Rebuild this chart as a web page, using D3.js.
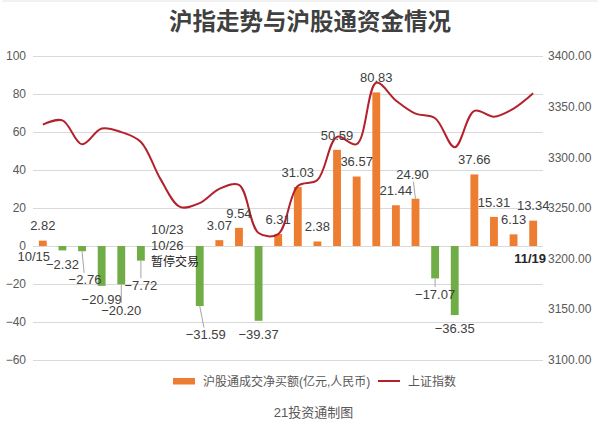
<!DOCTYPE html>
<html>
<head>
<meta charset="utf-8">
<script src="https://cdnjs.cloudflare.com/ajax/libs/d3/7.8.5/d3.min.js"></script>
<style>
  html, body { margin: 0; padding: 0; background: #fff; }
  svg { display: block; }
  text { font-family: "Liberation Sans", Arial, "Noto Sans CJK SC", sans-serif; }
</style>
</head>
<body>
<svg id="chart" width="600" height="432"></svg>
<script>
// ---- data ----
const dates = ["10/15","10/16","10/19","10/20","10/21","10/22","10/23","10/26","10/27","10/28","10/29","10/30",
  "11/2","11/3","11/4","11/5","11/6","11/9","11/10","11/11","11/12","11/13","11/16","11/17","11/18","11/19"];
const netBuy = [2.82,-2.32,-2.76,-20.99,-20.20,-7.72,null,null,-31.59,3.07,9.54,-39.37,
  6.31,31.03,2.38,50.59,36.57,80.83,21.44,24.90,-17.07,-36.35,37.66,15.31,6.13,13.34];
const sseIndex = [3332.2,3336.4,3312.7,3328.3,3324.8,3315.0,3278.3,3250.8,3254.6,3268.6,3272.6,3225.0,
  3224.0,3271.5,3277.4,3320.1,3312.8,3373.6,3356.0,3343.0,3338.5,3309.8,3345.8,3340.0,3348.0,3363.1];
const leftTicks = [-60,-40,-20,0,20,40,60,80,100];
const rightTicks = [3100,3150,3200,3250,3300,3350,3400];
const title = "沪指走势与沪股通资金情况";
const seriesNames = ["沪股通成交净买额(亿元,人民币)", "上证指数"];
const suspendedNote = ["10/23", "10/26", "暂停交易"];
const source = "21投资通制图";

// ---- layout config (label nudges for crowded labels) ----
const labelNudge = {2:{dx:3,dy:15}, 4:{dx:0,dy:12}, 5:{dx:0,dy:11}, 8:{dx:6,dy:15}, 19:{dx:-3,dy:-9}, 20:{dx:0,dy:2}};

const svg = d3.select("#chart");
const colPos = "#ED7D31", colNeg = "#70AD47", colLine = "#B3222C";
const textCol = "#404040", axisCol = "#595959";

const x = d3.scaleBand().domain(dates).range([33, 543]).paddingInner(0.6).paddingOuter(0.3);
const yL = d3.scaleLinear().domain([-60, 100]).range([360, 56]);
const yR = d3.scaleLinear().domain([3100, 3400]).range([359.5, 56]);
const cx = d => x(d) + x.bandwidth() / 2;

// top faint border
svg.append("line").attr("x1", 2).attr("x2", 598).attr("y1", 1).attr("y2", 1)
  .attr("stroke", "#e4e4e4").attr("stroke-width", 1);

// title
svg.append("text").attr("x", 310).attr("y", 30).attr("text-anchor", "middle")
  .style("font-family", "'Noto Sans CJK SC', sans-serif")
  .attr("font-size", 23.5).attr("font-weight", "bold").attr("fill", "#404040").text(title);

// gridlines
svg.append("g").selectAll("line").data(leftTicks).join("line")
  .attr("x1", 33).attr("x2", 543)
  .attr("y1", d => Math.round(yL(d)) + 0.5).attr("y2", d => Math.round(yL(d)) + 0.5)
  .attr("stroke", "#d9d9d9").attr("stroke-width", 1);

// left axis
const gL = svg.append("g").attr("transform", "translate(26,0)")
  .call(d3.axisLeft(yL).tickValues(leftTicks).tickSize(0).tickPadding(0));
gL.select(".domain").remove();
gL.selectAll("text").attr("font-size", 12).attr("fill", axisCol)
  .style("font-family", "'Liberation Sans', Arial, sans-serif");

// right axis
const gR = svg.append("g").attr("transform", "translate(548,0)")
  .call(d3.axisRight(yR).tickValues(rightTicks).tickFormat(d3.format(".2f")).tickSize(0).tickPadding(0));
gR.select(".domain").remove();
gR.selectAll("text").attr("font-size", 12).attr("fill", axisCol)
  .style("font-family", "'Liberation Sans', Arial, sans-serif");

// bars
const barData = dates.map((d, i) => ({d, i, v: netBuy[i]})).filter(e => e.v !== null);
svg.append("g").selectAll("rect").data(barData).join("rect")
  .attr("x", e => x(e.d))
  .attr("width", x.bandwidth())
  .attr("y", e => yL(Math.max(0, e.v)))
  .attr("height", e => Math.abs(yL(e.v) - yL(0)))
  .attr("fill", e => e.v >= 0 ? colPos : colNeg);

// line
const lineGen = d3.line()
  .x((v, i) => cx(dates[i]))
  .y(v => yR(v))
  .curve(d3.curveCatmullRom.alpha(0.5));
svg.append("path").datum(sseIndex).attr("d", lineGen)
  .attr("fill", "none").attr("stroke", colLine).attr("stroke-width", 2).attr("stroke-linejoin", "round");

// data labels
const fmt = d3.format(".2f");
const lbl = svg.append("g");
barData.forEach(e => {
  const n = labelNudge[e.i] || {dx:0, dy:0};
  const bx = cx(e.d);
  const endY = yL(e.v);
  let centerY = e.v >= 0 ? endY - 15 + n.dy : endY + 13.5 + n.dy;
  const lx = bx + n.dx;
  if (labelNudge[e.i]) {
    const y2 = e.v >= 0 ? centerY + 7 : centerY - 7;
    lbl.append("line").attr("x1", bx).attr("y1", endY).attr("x2", bx + n.dx * 0.7).attr("y2", y2)
      .attr("stroke", "#a6a6a6").attr("stroke-width", 1);
  }
  lbl.append("text").attr("x", lx).attr("y", centerY + 4.7).attr("text-anchor", "middle")
    .attr("font-size", 13).attr("fill", textCol).text(fmt(e.v));
});

// category labels (first and last)
svg.append("text").attr("x", cx(dates[0]) - 9).attr("y", 260.5).attr("text-anchor", "middle")
  .attr("font-size", 13).attr("fill", textCol).text(dates[0]);
svg.append("text").attr("x", cx(dates[dates.length - 1]) - 3).attr("y", 263).attr("text-anchor", "middle")
  .attr("font-size", 13).attr("font-weight", "bold").attr("fill", "#262626").text(dates[dates.length - 1]);

// suspended note
const sx = cx(dates[6]) - 9.5;
[234, 250].forEach((yy, k) => {
  svg.append("text").attr("x", sx).attr("y", yy).attr("font-size", 13).attr("fill", textCol).text(suspendedNote[k]);
});
svg.append("text").attr("x", sx).attr("y", 265.5).attr("font-size", 12).attr("fill", "#262626")
  .style("font-family", "'Noto Sans CJK SC', sans-serif").text(suspendedNote[2]);

// legend
svg.append("rect").attr("x", 173).attr("y", 378).attr("width", 22).attr("height", 6.5).attr("fill", colPos);
svg.append("text").attr("x", 203).attr("y", 385.5).attr("font-size", 12).attr("fill", axisCol).text(seriesNames[0]);
svg.append("line").attr("x1", 378).attr("x2", 400).attr("y1", 381).attr("y2", 381)
  .attr("stroke", colLine).attr("stroke-width", 2);
svg.append("text").attr("x", 408).attr("y", 385.5).attr("font-size", 12).attr("fill", axisCol).text(seriesNames[1]);

// source
svg.append("text").attr("x", 313.5).attr("y", 416.5).attr("text-anchor", "middle")
  .attr("font-size", 13).attr("fill", axisCol).text(source);
</script>
</body>
</html>
